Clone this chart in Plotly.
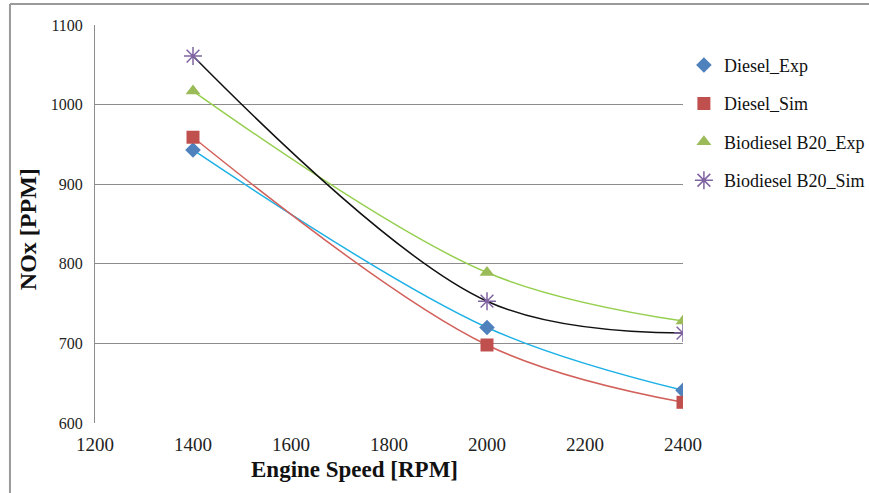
import plotly.graph_objects as go

speed = [1400, 2000, 2400]
diesel_exp = [943, 720, 641]
diesel_sim = [959, 698, 626]
b20_exp = [1017, 789, 728]
b20_sim = [1061, 753, 713]

x_ticks = [1200, 1400, 1600, 1800, 2000, 2200, 2400]
y_ticks = [600, 700, 800, 900, 1000, 1100]

series = [
    ("Diesel_Exp", diesel_exp, "#1db1e6", "#4f81bd", "diamond", 12),
    ("Diesel_Sim", diesel_sim, "#d2605a", "#c0504d", "square", 13),
    ("Biodiesel B20_Exp", b20_exp, "#95cf4e", "#9bbb59", "triangle-up", 13),
    ("Biodiesel B20_Sim", b20_sim, "#111111", "#8064a2", "asterisk-open", 15),
]

fig = go.Figure()
for name, vals, lc, mc, sym, size in series:
    fig.add_trace(go.Scatter(
        x=speed, y=vals, mode="lines", line=dict(color=lc, width=1.5, shape="spline", smoothing=1.0),
        showlegend=False, hoverinfo="skip"))
for name, vals, lc, mc, sym, size in series:
    marker = dict(symbol=sym, size=size, color=mc)
    if sym == "asterisk-open":
        marker["line"] = dict(color=mc, width=1.5)
    fig.add_trace(go.Scatter(
        x=speed, y=vals, mode="markers", name=name, marker=marker, legendgroup=name))

serif = "Liberation Serif"
fig.update_layout(
    width=869, height=493,
    margin=dict(l=95, r=186, t=25, b=70),
    paper_bgcolor="white", plot_bgcolor="white",
    font=dict(family=serif, color="#222222", size=15),
    showlegend=True,
    legend=dict(xref="container", yref="container", x=0.787, y=0.905,
                xanchor="left", yanchor="top",
                font=dict(family=serif, size=18, color="#111111"),
                tracegroupgap=12, itemwidth=30, bgcolor="rgba(0,0,0,0)"),
    xaxis=dict(range=[1200, 2400], tickvals=x_ticks, ticktext=[str(v) for v in x_ticks],
               showgrid=False, zeroline=False, showline=False, ticks="", automargin=False,
               ticklabelstandoff=8,
               tickfont=dict(family=serif, size=19, color="#222222")),
    yaxis=dict(range=[600, 1100], tickvals=y_ticks, ticktext=[str(v) for v in y_ticks],
               showgrid=True, gridcolor="#8c8c8c", gridwidth=1, zeroline=False, automargin=False,
               showline=True, linecolor="#8c8c8c", linewidth=1, ticks="",
               ticklabelstandoff=8,
               tickfont=dict(family=serif, size=16, color="#222222")),
    annotations=[
        dict(text="<b>Engine Speed [RPM]</b>", xref="paper", yref="paper", x=0.442, y=-0.118,
             xanchor="center", yanchor="middle", showarrow=False,
             font=dict(family=serif, size=23, color="#111111")),
        dict(text="<b>NOx [PPM]</b>", xref="paper", yref="paper", x=-0.114, y=0.487,
             xanchor="center", yanchor="middle", showarrow=False, textangle=-90,
             font=dict(family=serif, size=24, color="#111111")),
    ],
    shapes=[
        dict(type="line", xref="paper", yref="paper", x0=-0.1446, x1=1.32, y0=1.053, y1=1.053,
             line=dict(color="#9a9a9a", width=2)),
        dict(type="line", xref="paper", yref="paper", x0=-0.1446, x1=-0.1446, y0=1.053, y1=-0.2,
             line=dict(color="#9a9a9a", width=2)),
    ],
)

fig.write_html("out.html", config={"displayModeBar": False},
               post_script="document.body.style.margin='0';")
